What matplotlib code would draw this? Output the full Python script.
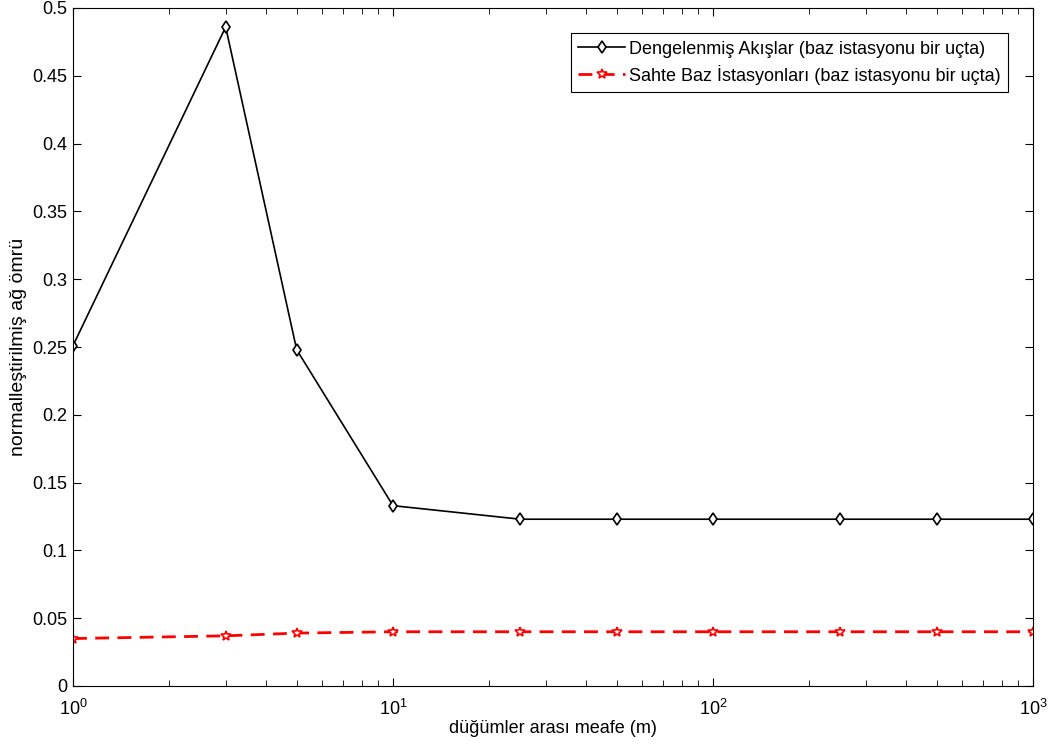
import numpy as np
import matplotlib.pyplot as plt
from matplotlib.ticker import LogLocator, NullFormatter

plt.rcParams['font.family'] = ['Liberation Sans', 'DejaVu Sans']

# distance between nodes (m)
mesafe = [1, 3, 5, 10, 25, 50, 100, 250, 500, 1000]
dengeli = [0.251, 0.486, 0.248, 0.133, 0.123, 0.123, 0.123, 0.123, 0.123, 0.123]
sahte = [0.035, 0.037, 0.039, 0.040, 0.040, 0.040, 0.040, 0.040, 0.040, 0.040]
ytick_labels = ['0', '0.05', '0.1', '0.15', '0.2', '0.25', '0.3', '0.35', '0.4', '0.45', '0.5']

fig = plt.figure(figsize=(10.54, 7.44), dpi=100)
ax = fig.add_axes([73 / 1054, 58 / 744, 960 / 1054, 678 / 744])

ax.plot(mesafe, dengeli, color='black', lw=1.2, marker='d', ms=6,
        mfc='white', mec='black', mew=1.2,
        label='Dengelenmiş Akışlar (baz istasyonu bir uçta)')
ax.plot(mesafe, sahte, color='red', lw=2, ls=(0, (5, 3)), marker='*', ms=7,
        mfc='white', mec='red', mew=1.2,
        label='Sahte Baz İstasyonları (baz istasyonu bir uçta)')

ax.set_xscale('log')
ax.set_xlim(1, 1000)
ax.set_ylim(0, 0.5)
ax.set_yticks(np.arange(0, 0.501, 0.05))
ax.set_yticklabels(ytick_labels)
ax.xaxis.set_major_locator(LogLocator(base=10))
ax.xaxis.set_minor_locator(LogLocator(base=10, subs=np.arange(2, 10)))
ax.xaxis.set_minor_formatter(NullFormatter())

ax.tick_params(which='both', direction='in', top=True, right=True, labelsize=13)
ax.tick_params(which='major', length=6)
ax.tick_params(which='minor', length=4)
ax.tick_params(axis='x', which='major', pad=9)
ax.tick_params(axis='y', which='major', pad=4)
for s in ax.spines.values():
    s.set_linewidth(0.8)

ax.set_xlabel('düğümler arası meafe (m)', fontsize=13, labelpad=1)
ax.set_ylabel('normalleştirilmiş ağ ömrü', fontsize=14, labelpad=4)

leg = ax.legend(loc='upper right', fontsize=13, fancybox=False, framealpha=1,
                edgecolor='black', handlelength=2.6, handletextpad=0.2,
                labelspacing=0.4, borderaxespad=1.4, borderpad=0.4)
leg.get_frame().set_linewidth(0.8)

fig.savefig('out.png', dpi=100)
